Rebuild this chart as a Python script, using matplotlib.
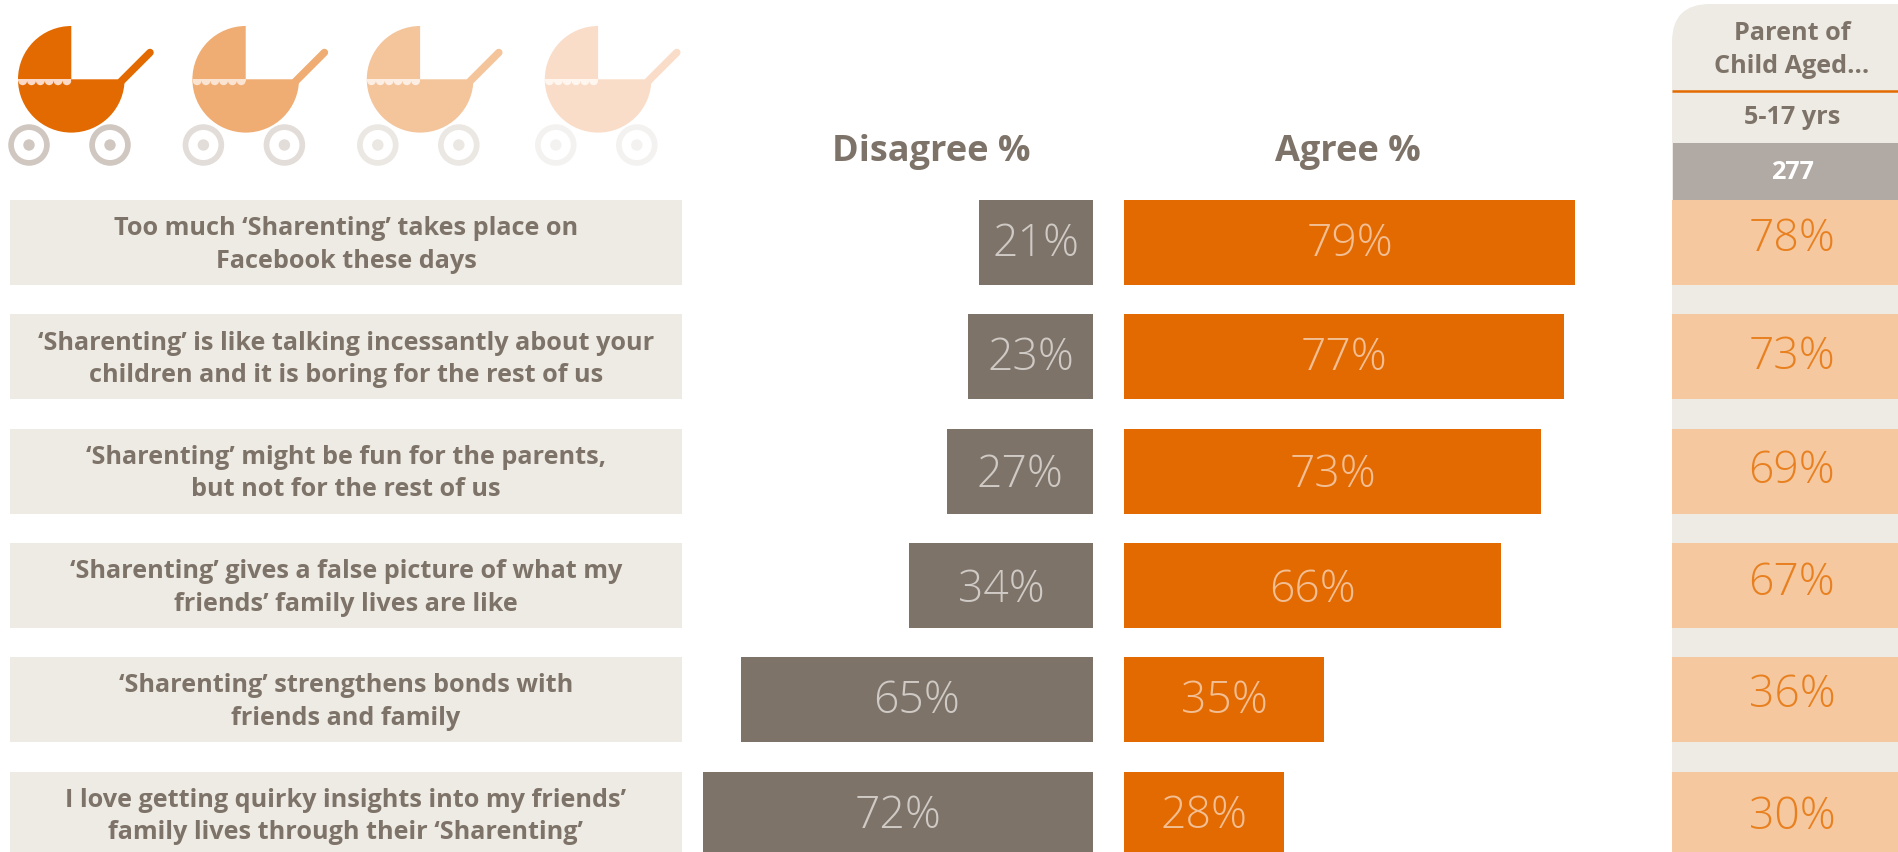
import numpy as np
import matplotlib
matplotlib.use('Agg')
import matplotlib.pyplot as plt
from matplotlib.patches import Circle, Wedge, Rectangle, FancyBboxPatch

# Survey results
statements = [
    'Too much ‘Sharenting’ takes place on\nFacebook these days',
    '‘Sharenting’ is like talking incessantly about your\nchildren and it is boring for the rest of us',
    '‘Sharenting’ might be fun for the parents,\nbut not for the rest of us',
    '‘Sharenting’ gives a false picture of what my\nfriends’ family lives are like',
    '‘Sharenting’ strengthens bonds with\nfriends and family',
    'I love getting quirky insights into my friends’\nfamily lives through their ‘Sharenting’',
]
disagree = [21, 23, 27, 34, 65, 72]
agree = [79, 77, 73, 66, 35, 28]
parents = [78, 73, 69, 67, 36, 30]
parent_base = '277'

ORANGE = '#E36A00'
TAUPE = '#7D7369'
BEIGE = '#EEEBE4'
PEACH = '#F5C8A0'

FONT = ['Open Sans', 'DejaVu Sans']
plt.rcParams['font.family'] = FONT

fig = plt.figure(figsize=(18.99, 8.52), dpi=100)
W, H = 1899, 852

# Background layer works in pixels, top-left origin
bg = fig.add_axes([0, 0, 1, 1])
bg.set_xlim(0, W)
bg.set_ylim(H, 0)
bg.axis('off')

row_top = 200 + 114.3 * np.arange(len(statements))
row_h = 85
row_mid = row_top + row_h / 2


def draw_pram(ax, dx, body, wheel, frill):
    cx, cy, r = 71.3 + dx, 79.3, 53.3
    # y runs downward here, so 180-270 is the upper left quarter
    ax.add_patch(Wedge((cx, cy), r, 180, 270, fc=body, ec='none'))
    ax.add_patch(Wedge((cx, cy), r, 0, 180, fc=body, ec='none'))
    ax.plot([121 + dx, 150 + dx], [81.5, 52.5], color=body, lw=5.4, solid_capstyle='round')
    for wx in (29, 110):
        ax.add_patch(Circle((wx + dx, 145), 17.9, fc='white', ec=wheel, lw=4.1))
        ax.add_patch(Circle((wx + dx, 145), 5.7, fc=wheel, ec='none'))
    # scalloped trim along the hood edge
    ax.add_patch(Rectangle((18.3 + dx, 79.3), 53, 1.6, fc=frill, ec='none'))
    for k in range(6):
        ax.add_patch(Wedge((22.7 + dx + k * 8.83, 80.8), 4.4, 0, 180, fc=frill, ec='none'))


pram_shift = [0, 174.4, 348.8, 526.8]
pram_body = ['#E36A00', '#EFAC73', '#F4C49B', '#FADDC8']
pram_wheel = ['#CFC7C0', '#E2DDD8', '#EBE7E3', '#F4F2F0']
pram_frill = ['#FBD9C6', '#FBE3D2', '#FDEEE3', '#FFF6F0']
for i in range(4):
    draw_pram(bg, pram_shift[i], pram_body[i], pram_wheel[i], pram_frill[i])

# Statement boxes on the left
for y, y_mid, s in zip(row_top, row_mid, statements):
    bg.add_patch(Rectangle((10, y), 672, row_h, fc=BEIGE, ec='none'))
    bg.text(346, y_mid + 2.5, s, ha='center', va='center', fontsize=18.2, fontweight='bold',
            color=TAUPE, linespacing=1.39)

bg.text(931, 151.5, 'Disagree %', ha='center', va='center', fontsize=26, fontweight='bold', color=TAUPE)
bg.text(1348, 151.5, 'Agree %', ha='center', va='center', fontsize=26, fontweight='bold', color=TAUPE)

# Parent column
bg.add_patch(FancyBboxPatch((1672 + 38, 4 + 38), 205, 900, boxstyle='round,pad=38,rounding_size=38',
                            fc=BEIGE, ec='none'))
bg.plot([1672, W], [91, 91], color=ORANGE, lw=1.8, solid_capstyle='butt')
bg.add_patch(Rectangle((1673, 143), W - 1673, 57, fc='#B1A9A4', ec='none'))
bg.text(1792, 50, 'Parent of\nChild Aged...', ha='center', va='center', fontsize=18.2, fontweight='bold',
        color=TAUPE, linespacing=1.38)
bg.text(1792, 118, '5-17 yrs', ha='center', va='center', fontsize=18.2, fontweight='bold', color=TAUPE)
bg.text(1792, 172.5, parent_base, ha='center', va='center', fontsize=18.2, fontweight='bold', color='white')
parent_offset = [-3, 1, 1, -2, -4, 4]
for y, y_mid, v, off in zip(row_top, row_mid, parents, parent_offset):
    bg.add_patch(Rectangle((1672, y), W - 1672, row_h, fc=PEACH, ec='none'))
    bg.text(1792, y_mid + off, f'{v}%', ha='center', va='center', fontsize=32, fontweight='light',
            family=FONT, color='#E8801F')

# Diverging bars, each side on its own scale
ax_dis = fig.add_axes([703 / W, 0, 390 / W, 1])
ax_dis.set_xlim(72, 0)
ax_agr = fig.add_axes([1124.5 / W, 0, 451 / W, 1])
ax_agr.set_xlim(0, 79)
label_offset = [2, 2, 5, 5, 2, 3]
for ax, vals, col in ((ax_dis, disagree, TAUPE), (ax_agr, agree, ORANGE)):
    ax.set_ylim(H, 0)
    ax.axis('off')
    ax.patch.set_alpha(0)
    ax.barh(row_mid, vals, height=row_h, color=col)
    for y, v, off in zip(row_mid, vals, label_offset):
        ax.text(v / 2, y + off, f'{v}%', ha='center', va='center', fontsize=32, fontweight='light',
                family=FONT, color='#CFCAC5' if col == TAUPE else '#F2BE94')

fig.savefig('out.png', dpi=100)
